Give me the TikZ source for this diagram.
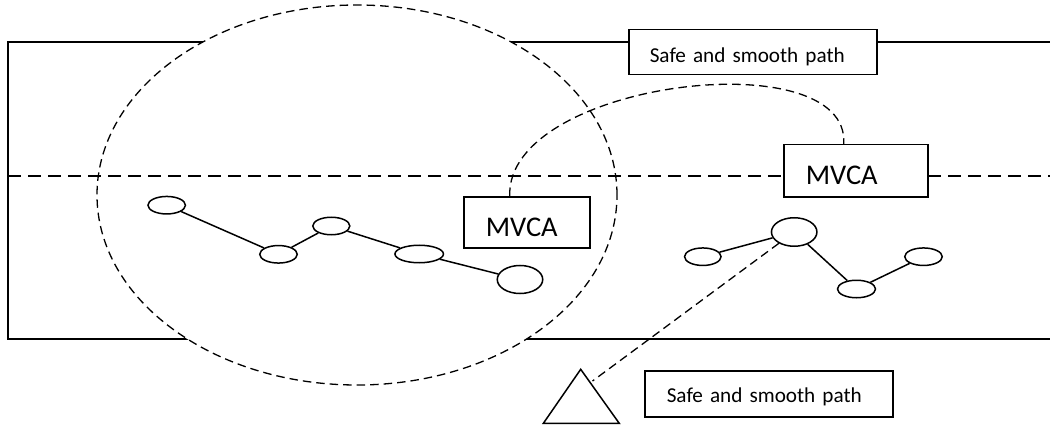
\documentclass[tikz,border=0pt]{standalone}
\usepackage{fontspec}
\setmainfont{Carlito}
\usetikzlibrary{shapes.geometric,calc}
\begin{document}
\begin{tikzpicture}[x=1pt,y=-1pt,
  wire/.style={line width=1.5pt},
  lanedash/.style={line width=1.5pt, dash pattern=on 13pt off 7pt},
  finedash/.style={line width=1.3pt, dash pattern=on 8.5pt off 5pt},
  blob/.style={ellipse, draw, line width=1.5pt, inner sep=0pt, fill=white},
  labelbox/.style={draw, line width=1.5pt, fill=white, anchor=north west,
    inner xsep=22pt, inner ysep=0pt, align=left},
  smalltext/.style={font=\fontsize{21.2pt}{25pt}\selectfont},
  bigtext/.style={font=\fontsize{28.5pt}{34pt}\selectfont},
]
\useasboundingbox (0,0) rectangle (1050,425);

% road edges
\draw[wire] (1053,42) -- (8,42) -- (8,339) -- (1053,339);

% sensing zone around the first group
\node[ellipse, draw, fill=white, finedash, minimum width=520pt, minimum height=380pt,
  inner sep=0pt] (zone) at (357,195) {};

% lane divider
\coordinate (laneL) at (8,176);
\coordinate (laneR) at (1053,176);
\draw[lanedash] (laneL) -- (laneR);

% labels
\node[labelbox, smalltext, inner xsep=21pt, text width=206pt, text height=32.7pt, text depth=12.3pt]
  (pathtop) at (628,29) {Safe and smooth path};
\node[labelbox, smalltext, text width=204pt, text height=31.7pt, text depth=14.3pt]
  (pathbot) at (644,370) {Safe and smooth path};
\node[labelbox, bigtext, text width=82pt, text height=39.7pt, text depth=11.3pt]
  (mvL) at (463,196) {MVCA};
\node[labelbox, bigtext, text width=100pt, text height=39.3pt, text depth=12.7pt]
  (mvR) at (783,144) {MVCA};

% link between the two MVCA boxes
\draw[finedash] ([xshift=-17pt]mvL.north) .. controls +(-4,-115) and +(7,-104) .. ([xshift=-12pt]mvR.north);

% first vehicle group
\node[blob, minimum width=37.5pt, minimum height=17.5pt] (n1) at (166.7,205.2) {};
\node[blob, minimum width=37.5pt, minimum height=17.5pt] (n2) at (278.5,254.3) {};
\node[blob, minimum width=37pt, minimum height=17.5pt] (n3) at (331.3,226) {};
\node[blob, minimum width=48.5pt, minimum height=17.5pt] (n4) at (419.2,254) {};
\node[blob, minimum width=45.5pt, minimum height=28pt] (n5) at (520,279.5) {};
\draw[wire] (n1) -- (n2) (n2) -- (n3) (n3) -- (n4) (n4) -- (n5);

% second vehicle group
\node[blob, minimum width=36.5pt, minimum height=17.5pt] (m1) at (702.8,256.7) {};
\node[blob, minimum width=45.5pt, minimum height=28.5pt] (m2) at (794.2,232) {};
\node[blob, minimum width=38pt, minimum height=17.5pt] (m3) at (856.5,289) {};
\node[blob, minimum width=37.5pt, minimum height=17.5pt] (m4) at (923.5,256.7) {};
\draw[wire] (m1) -- (m2) (m2) -- (m3) (m3) -- (m4);

% roadside unit
\draw[wire, line join=miter] (580.7,369.3) -- (619.3,423.4) -- (543.3,423.4) -- cycle;
\coordinate (trihit) at (592.5,381);
\draw[finedash] (m2) -- (trihit);
\end{tikzpicture}
\end{document}
